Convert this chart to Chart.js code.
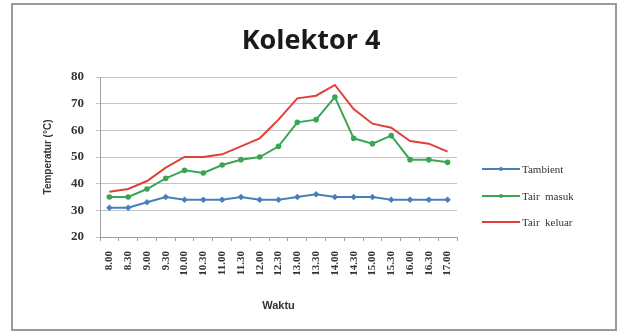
<!DOCTYPE html>
<html><head><meta charset="utf-8">
<script src="https://cdn.jsdelivr.net/npm/chart.js@4/dist/chart.umd.min.js"></script>
<style>
html,body{margin:0;padding:0;background:#fff;}
#wrap{position:relative;width:621px;height:333px;}
#frame{position:absolute;left:11px;top:3px;width:606px;height:328px;border:2px solid #9a9a9a;box-sizing:border-box;pointer-events:none;}
canvas{position:absolute;left:0;top:0;}
</style></head><body>
<div id="wrap"><canvas id="c" width="621" height="333"></canvas><div id="frame"></div></div>
<script>
const categories = ["8.00","8.30","9.00","9.30","10.00","10.30","11.00","11.30","12.00","12.30","13.00","13.30","14.00","14.30","15.00","15.30","16.00","16.30","17.00"];
const tAmbient = [31,31,33,35,34,34,34,35,34,34,35,36,35,35,35,34,34,34,34];
const tAirMasuk = [35,35,38,42,45,44,47,49,50,54,63,64,72.5,57,55,58,49,49,48];
const tAirKeluar = [37,38,41,46,50,50,51,54,57,64,72,73,77,68,62.5,61,56,55,52];
const yTicks = [20,30,40,50,60,70,80];
const chartTitle = 'Kolektor 4';

const serif = "'Liberation Serif','Times New Roman',serif";
const sans = "'Liberation Sans',Arial,sans-serif";

const decorPlugin = {
  id:'decor',
  afterDraw(chart){
    const ctx = chart.ctx;
    ctx.save();
    ctx.fillStyle = '#1a1a1a';
    ctx.font = "bold 27px 'Open Sans',Arial,sans-serif";
    ctx.textAlign='center'; ctx.textBaseline='middle';
    ctx.fillText(chartTitle,311,41);
    ctx.restore();
    const ys = [169,196,222];
    chart.data.datasets.forEach((ds,i)=>{
      const y = ys[i];
      ctx.save();
      ctx.strokeStyle = ds.borderColor;
      ctx.lineWidth = 2;
      ctx.beginPath(); ctx.moveTo(482,y); ctx.lineTo(520,y); ctx.stroke();
      if (ds.pointRadius>0){
        ctx.fillStyle = ds.borderColor;
        ctx.beginPath(); ctx.arc(501,y,2,0,Math.PI*2); ctx.fill();
      }
      ctx.fillStyle = '#333';
      ctx.font = "11px "+serif;
      ctx.textBaseline='middle';
      ctx.textAlign='left';
      ctx.fillText(ds.label,522,y+1);
      ctx.restore();
    });
  }
};

new Chart(document.getElementById('c'),{
  type:'line',
  data:{
    labels:categories,
    datasets:[
      {label:'Tambient',data:tAmbient,borderColor:'#4a7ebb',backgroundColor:'#4a7ebb',borderWidth:2,pointRadius:1.8,pointStyle:'rectRot',tension:0},
      {label:'Tair  masuk',data:tAirMasuk,borderColor:'#3aa655',backgroundColor:'#3aa655',borderWidth:2,pointRadius:1.8,pointStyle:'circle',tension:0},
      {label:'Tair  keluar',data:tAirKeluar,borderColor:'#e0403a',backgroundColor:'#e0403a',borderWidth:2,pointRadius:0,tension:0}
    ]
  },
  options:{
    responsive:false,animation:false,
    layout:{padding:{left:14,right:164,top:77,bottom:8}},
    plugins:{
      legend:{display:false},
      tooltip:{enabled:false},
      title:{display:false}
    },
    scales:{
      x:{
        offset:true,
        afterFit(s){s.height=88;},
        grid:{display:true,drawOnChartArea:false,drawTicks:true,tickLength:4,offset:true,color:'#a0a0a0'},
        border:{color:'#a0a0a0'},
        ticks:{minRotation:90,maxRotation:90,color:'#333',font:{family:serif,size:11,weight:'bold'},padding:10,autoSkip:false},
        title:{display:true,text:'Waktu',color:'#333',font:{family:sans,size:11,weight:'bold'},padding:{top:8,bottom:12}}
      },
      y:{
        min:20,max:80,
        afterBuildTicks(s){s.ticks=yTicks.map(v=>({value:v}));},
        afterFit(s){s.width=86;},
        grid:{color:'#c4c4c4',tickLength:4,drawTicks:true},
        border:{color:'#a0a0a0'},
        ticks:{color:'#333',font:{family:serif,size:13,weight:'bold'},padding:12},
        title:{display:true,text:'Temperatur (°C)',color:'#333',font:{family:sans,size:10,weight:'bold'},padding:{top:28,bottom:8}}
      }
    }
  },
  plugins:[decorPlugin]
});
</script></body></html>
